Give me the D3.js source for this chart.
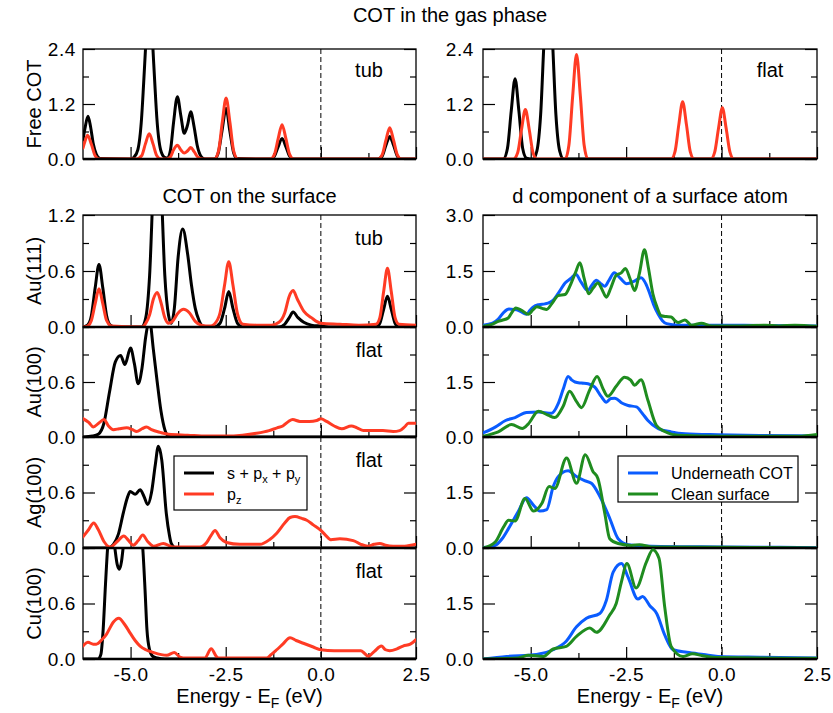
<!DOCTYPE html>
<html>
<head>
<meta charset="utf-8">
<script src="https://cdn.jsdelivr.net/npm/d3@7"></script>
<style>
  body { margin: 0; background: #fff; }
  svg text { font-family: "Liberation Sans", Arial, sans-serif; fill: #000; }
</style>
</head>
<body>
<svg id="chart" width="833" height="713"></svg>
<script>
// energy axis ticks (eV)
const energyTicks = [-5, -2.5, 0, 2.5];
const energyMinor = [-3.75, -1.25, 1.25];

// COT in the gas phase, tub
const freeTubSP = [[-6.25,0.42],[-6.2,0.66],[-6.12,0.93],[-6.05,0.7],[-5.98,0.33],[-5.9,0.1],[-5.8,0.01],
  [-5.0,0],[-4.91,0.04],[-4.81,0.2],[-4.71,0.9],[-4.66,1.6],[-4.61,2.37],[-4.56,3.13],[-4.51,3.9],[-4.46,3.13],[-4.41,2.37],[-4.36,1.6],[-4.31,0.9],[-4.21,0.2],[-4.11,0.04],
  [-4.03,0.02],[-3.95,0.2],[-3.87,0.8],[-3.77,1.36],[-3.68,0.95],[-3.59,0.56],[-3.5,0.75],[-3.42,1.03],[-3.33,0.7],[-3.25,0.3],[-3.15,0.06],[-3.05,0],
  [-2.8,0],[-2.7,0.12],[-2.6,0.6],[-2.49,1.1],[-2.39,0.6],[-2.29,0.13],[-2.2,0.01],
  [-1.3,0],[-1.22,0.06],[-1.12,0.27],[-1.02,0.45],[-0.92,0.27],[-0.82,0.06],[-0.72,0],
  [1.5,0],[1.61,0.06],[1.71,0.3],[1.81,0.49],[1.91,0.3],[2.01,0.06],[2.1,0],[2.5,0]];
const freeTubPz = [[-6.25,0.24],[-6.2,0.38],[-6.13,0.52],[-6.03,0.32],[-5.93,0.07],[-5.83,0],
  [-4.85,0],[-4.71,0.07],[-4.61,0.33],[-4.51,0.55],[-4.41,0.33],[-4.31,0.07],[-4.2,0],
  [-4.05,0],[-3.95,0.05],[-3.87,0.2],[-3.77,0.3],[-3.68,0.2],[-3.59,0.13],[-3.5,0.18],[-3.42,0.25],[-3.33,0.16],[-3.23,0.04],[-3.1,0],
  [-2.8,0],[-2.69,0.17],[-2.59,0.8],[-2.49,1.33],[-2.39,0.8],[-2.29,0.17],[-2.18,0],
  [-1.32,0],[-1.22,0.1],[-1.12,0.45],[-1.02,0.75],[-0.92,0.45],[-0.82,0.1],[-0.72,0],
  [1.5,0],[1.61,0.09],[1.71,0.41],[1.81,0.68],[1.91,0.41],[2.01,0.09],[2.11,0],[2.5,0]];

// COT in the gas phase, flat
const freeFlatSP = [[-6.25,0],[-5.72,0],[-5.61,0.23],[-5.51,1.05],[-5.41,1.75],[-5.31,1.05],[-5.21,0.23],[-5.11,0.02],
  [-4.94,0],[-4.84,0.17],[-4.74,0.97],[-4.64,2.76],[-4.54,3.9],[-4.44,2.76],[-4.34,0.97],[-4.24,0.17],[-4.14,0],[2.5,0]];
const freeFlatPz = [[-6.25,0],[-5.45,0],[-5.34,0.14],[-5.24,0.65],[-5.14,1.08],[-5.04,0.65],[-4.94,0.14],[-4.84,0],
  [-4.1,0],[-4.0,0.3],[-3.9,1.38],[-3.8,2.28],[-3.7,1.38],[-3.6,0.3],[-3.5,0],
  [-1.32,0],[-1.22,0.16],[-1.12,0.75],[-1.02,1.25],[-0.92,0.75],[-0.82,0.16],[-0.72,0],
  [-0.28,0],[-0.18,0.15],[-0.08,0.67],[0.02,1.12],[0.12,0.67],[0.22,0.15],[0.32,0],[2.5,0]];

// COT on the surface
const au111SP = [[-6.25,0],[-6.13,0.02],[-6.03,0.12],[-5.93,0.42],[-5.83,0.67],[-5.73,0.42],[-5.63,0.12],[-5.53,0.02],[-5.4,0],
  [-4.7,0],[-4.6,0.1],[-4.5,0.55],[-4.4,1.55],[-4.3,2.2],[-4.2,1.55],[-4.1,0.55],[-4.0,0.12],[-3.93,0.04],
  [-3.85,0.2],[-3.75,0.75],[-3.63,1.05],[-3.5,0.78],[-3.4,0.45],[-3.3,0.2],[-3.2,0.07],[-3.1,0.01],[-2.95,0],
  [-2.8,0],[-2.65,0.04],[-2.53,0.2],[-2.42,0.38],[-2.31,0.2],[-2.19,0.04],[-2.05,0],
  [-1.1,0],[-0.95,0.03],[-0.83,0.1],[-0.73,0.16],[-0.6,0.1],[-0.45,0.05],[-0.25,0.02],[0,0.01],[0.3,0],
  [1.45,0],[1.55,0.04],[1.65,0.19],[1.75,0.33],[1.85,0.19],[1.95,0.04],[2.05,0],[2.5,0]];
const au111Pz = [[-6.25,0],[-6.13,0.01],[-6.03,0.07],[-5.93,0.25],[-5.83,0.41],[-5.73,0.25],[-5.63,0.07],[-5.5,0.01],
  [-4.7,0],[-4.6,0.04],[-4.5,0.13],[-4.4,0.3],[-4.3,0.37],[-4.2,0.26],[-4.1,0.1],[-4.0,0.04],[-3.9,0.06],[-3.75,0.15],[-3.61,0.19],[-3.45,0.15],[-3.3,0.06],[-3.15,0.02],
  [-2.9,0.01],[-2.8,0.03],[-2.65,0.15],[-2.53,0.45],[-2.42,0.7],[-2.31,0.45],[-2.19,0.14],[-2.05,0.03],[-1.7,0.02],[-1.3,0.02],
  [-1.1,0.05],[-0.95,0.15],[-0.83,0.33],[-0.73,0.39],[-0.62,0.3],[-0.45,0.17],[-0.25,0.1],[0,0.04],[0.5,0.03],[1.0,0.02],
  [1.45,0.03],[1.55,0.1],[1.65,0.38],[1.75,0.63],[1.85,0.38],[1.95,0.1],[2.05,0.03],[2.5,0.02]];

const au100SP = [[-6.25,0],[-6.0,0.01],[-5.85,0.03],[-5.7,0.15],[-5.55,0.5],[-5.4,0.82],[-5.26,0.89],[-5.15,0.79],[-5.0,0.97],[-4.9,0.8],[-4.8,0.58],[-4.7,0.75],
  [-4.6,1.1],[-4.5,1.27],[-4.4,0.95],[-4.3,0.6],[-4.2,0.28],[-4.1,0.08],[-4.0,0.01],[-3.8,0],[2.5,0]];
const au100Pz = [[-6.25,0.2],[-6.1,0.16],[-5.98,0.11],[-5.84,0.15],[-5.7,0.19],[-5.58,0.12],[-5.45,0.08],[-5.3,0.09],[-5.1,0.1],[-4.95,0.08],[-4.84,0.06],
  [-4.7,0.09],[-4.58,0.11],[-4.45,0.08],[-4.22,0.05],[-4.0,0.03],[-3.5,0.02],[-3.0,0.01],[-2.5,0.01],[-2.06,0.02],[-1.7,0.04],[-1.36,0.07],
  [-1.15,0.1],[-1.0,0.12],[-0.85,0.17],[-0.74,0.19],[-0.55,0.17],[-0.3,0.17],[-0.11,0.18],[0,0.2],[0.15,0.17],[0.35,0.12],[0.55,0.09],
  [0.8,0.12],[0.95,0.1],[1.12,0.07],[1.4,0.07],[1.63,0.07],[1.9,0.06],[2.07,0.07],[2.2,0.11],[2.3,0.15],[2.5,0.15]];

const ag100SP = [[-6.25,0],[-5.6,0],[-5.45,0.04],[-5.32,0.15],[-5.19,0.38],[-5.08,0.55],[-5.01,0.61],[-4.88,0.58],[-4.75,0.63],[-4.65,0.56],[-4.55,0.47],
  [-4.45,0.6],[-4.35,0.9],[-4.27,1.1],[-4.18,0.95],[-4.06,0.37],[-3.98,0.14],[-3.93,0.05],[-3.8,0],[2.5,0]];
const ag100Pz = [[-6.25,0.12],[-6.1,0.2],[-5.97,0.27],[-5.85,0.2],[-5.7,0.07],[-5.54,0.01],[-5.35,0.07],[-5.18,0.13],[-5.05,0.08],[-4.93,0.03],[-4.8,0.08],
  [-4.68,0.14],[-4.55,0.07],[-4.4,0.02],[-4.14,0.05],[-3.88,0.01],[-3.18,0.01],[-3.0,0.06],[-2.88,0.14],[-2.78,0.19],[-2.65,0.11],[-2.48,0.06],
  [-2.13,0.04],[-1.6,0.04],[-1.35,0.09],[-1.16,0.16],[-0.95,0.27],[-0.81,0.33],[-0.68,0.34],[-0.5,0.32],[-0.37,0.3],[-0.2,0.25],[0,0.19],
  [0.12,0.14],[0.26,0.09],[0.5,0.1],[0.85,0.08],[1.05,0.04],[1.24,0.02],[1.4,0.04],[1.55,0.05],[1.7,0.03],[1.9,0.02],[2.2,0.02],[2.5,0.04]];

const cu100SP = [[-6.25,0],[-5.85,0],[-5.78,0.05],[-5.72,0.32],[-5.66,0.8],[-5.6,1.22],[-5.52,1.5],[-5.42,1.22],[-5.35,1.02],[-5.29,0.97],[-5.24,1.05],
  [-5.19,1.22],[-5.1,1.5],[-4.9,1.6],[-4.75,1.45],[-4.68,1.2],[-4.62,0.75],[-4.57,0.32],[-4.5,0.1],[-4.42,0.03],[-4.3,0.01],[-4.1,0],[2.5,0]];
const cu100Pz = [[-6.25,0.14],[-6.12,0.18],[-5.98,0.16],[-5.9,0.16],[-5.75,0.21],[-5.63,0.27],[-5.45,0.4],[-5.31,0.44],[-5.15,0.37],[-5.01,0.28],
  [-4.88,0.2],[-4.75,0.14],[-4.6,0.1],[-4.4,0.07],[-4.05,0.04],[-3.85,0.07],[-3.7,0.02],[-3.55,0.01],[-3.05,0.01],[-2.88,0.11],[-2.75,0.03],
  [-2.69,0.01],[-1.43,0.01],[-1.3,0.05],[-1.16,0.1],[-1.0,0.16],[-0.81,0.23],[-0.65,0.2],[-0.46,0.17],[-0.2,0.13],[0,0.1],[0.35,0.09],
  [0.7,0.09],[1.05,0.09],[1.15,0.06],[1.24,0.03],[1.4,0.08],[1.59,0.14],[1.7,0.1],[1.81,0.09],[2.0,0.11],[2.16,0.14],[2.35,0.16],[2.5,0.21]];

// d component of a surface atom
const au111Under = [[-6.25,0.05],[-6.0,0.1],[-5.85,0.21],[-5.7,0.4],[-5.57,0.48],[-5.45,0.47],[-5.33,0.45],[-5.2,0.38],[-5.11,0.34],[-5.02,0.45],
  [-4.93,0.54],[-4.78,0.6],[-4.63,0.62],[-4.5,0.66],[-4.41,0.72],[-4.25,0.95],[-4.1,1.18],[-3.95,1.3],[-3.82,1.41],[-3.68,1.2],[-3.51,0.98],
  [-3.4,1.12],[-3.28,1.25],[-3.15,1.15],[-3.06,1.09],[-2.95,1.25],[-2.81,1.45],[-2.65,1.3],[-2.49,1.16],[-2.3,1.22],[-2.11,1.32],[-1.98,1.15],
  [-1.88,0.89],[-1.78,0.6],[-1.66,0.34],[-1.55,0.17],[-1.44,0.09],[-1.14,0.05],[-0.09,0.05],[1.0,0.04],[2.5,0.03]];
const au111Clean = [[-6.25,0.02],[-6.02,0.07],[-5.85,0.15],[-5.75,0.18],[-5.59,0.24],[-5.5,0.38],[-5.39,0.51],[-5.25,0.45],[-5.06,0.34],[-4.95,0.45],
  [-4.84,0.54],[-4.7,0.5],[-4.58,0.47],[-4.45,0.62],[-4.28,0.84],[-4.1,0.87],[-3.95,1.15],[-3.83,1.45],[-3.71,1.72],[-3.6,1.3],[-3.48,0.89],
  [-3.36,1.05],[-3.24,1.18],[-3.12,0.98],[-3.02,0.8],[-2.9,1.05],[-2.76,1.39],[-2.63,1.45],[-2.52,1.57],[-2.4,1.3],[-2.28,0.98],[-2.15,1.45],
  [-2.02,2.07],[-1.92,1.6],[-1.8,0.89],[-1.68,0.5],[-1.58,0.3],[-1.45,0.28],[-1.32,0.27],[-1.22,0.17],[-1.14,0.12],[-0.96,0.19],[-0.79,0.05],
  [-0.53,0.1],[-0.26,0.03],[0.5,0.03],[1.14,0.05],[1.5,0.03],[1.92,0.05],[2.5,0.02]];

const au100Under = [[-6.25,0.11],[-5.93,0.27],[-5.66,0.45],[-5.41,0.53],[-5.11,0.67],[-4.8,0.68],[-4.45,0.65],[-4.28,0.91],[-4.15,1.3],[-4.02,1.65],
  [-3.92,1.55],[-3.84,1.5],[-3.67,1.47],[-3.5,1.45],[-3.32,1.36],[-3.15,1.1],[-3.02,0.95],[-2.9,1.05],[-2.8,1.06],[-2.6,0.92],[-2.45,0.86],
  [-2.23,0.82],[-2.08,0.65],[-1.93,0.45],[-1.66,0.23],[-1.32,0.14],[-0.96,0.09],[-0.09,0.06],[1.0,0.04],[2.5,0.03]];
const au100Clean = [[-6.25,0.02],[-5.85,0.14],[-5.5,0.34],[-5.22,0.23],[-5.06,0.36],[-4.8,0.7],[-4.55,0.6],[-4.37,0.53],[-4.15,0.84],[-3.98,1.25],
  [-3.82,1.0],[-3.67,0.8],[-3.46,1.27],[-3.26,1.65],[-3.1,1.3],[-2.98,1.11],[-2.75,1.4],[-2.54,1.63],[-2.38,1.55],[-2.28,1.41],[-2.11,1.56],
  [-1.93,1.0],[-1.71,0.32],[-1.49,0.15],[-1.14,0.05],[0,0.02],[2.0,0.02],[2.5,0.07]];

const ag100Under = [[-6.25,0.01],[-5.93,0.07],[-5.75,0.25],[-5.58,0.53],[-5.33,0.98],[-5.11,1.36],[-4.93,1.16],[-4.76,1.0],[-4.58,1.04],[-4.41,1.66],
  [-4.28,1.93],[-4.02,2.09],[-3.8,1.93],[-3.59,1.82],[-3.41,1.75],[-3.19,1.4],[-2.93,0.8],[-2.71,0.25],[-2.45,0.09],[-1.84,0.05],[0,0.03],[2.5,0.01]];
const ag100Clean = [[-6.25,0],[-5.93,0.16],[-5.71,0.57],[-5.58,0.75],[-5.41,0.73],[-5.15,1.34],[-4.93,1.0],[-4.71,1.2],[-4.52,1.66],[-4.37,1.61],
  [-4.06,2.43],[-3.8,1.75],[-3.57,2.52],[-3.37,2.07],[-3.24,1.88],[-3.06,0.94],[-2.93,0.25],[-2.71,0.12],[-2.36,0.07],[-2.15,0.09],[-1.84,0.03],
  [0,0.02],[2.5,0]];

const cu100Under = [[-6.25,0],[-5.63,0.07],[-4.85,0.12],[-4.41,0.25],[-4.07,0.48],[-3.8,0.87],[-3.54,1.1],[-3.19,1.23],[-3.02,1.58],[-2.84,2.35],
  [-2.62,2.58],[-2.45,2.21],[-2.19,1.62],[-2.07,1.69],[-1.88,1.44],[-1.7,1.23],[-1.49,0.65],[-1.27,0.25],[-0.91,0.18],[-0.47,0.12],[-0.09,0.07],
  [1.0,0.05],[2.5,0.03]];
const cu100Clean = [[-6.25,0],[-5.33,0.03],[-5.06,0.1],[-4.67,0.07],[-4.41,0.27],[-4.07,0.34],[-3.8,0.61],[-3.45,0.84],[-3.28,0.72],[-2.93,1.19],
  [-2.76,1.5],[-2.62,2.1],[-2.48,2.58],[-2.24,1.92],[-1.97,2.62],[-1.8,2.95],[-1.64,2.72],[-1.49,1.41],[-1.32,0.34],[-1.01,0.07],[-0.76,0.14],
  [-0.5,0.09],[-0.09,0.04],[2.5,0.02]];

const RED = '#ff3b24', BLUE = '#0a5cff', GREEN = '#1f8c1f', BLACK = '#000';
const cols = [[83, 416], [483, 817]];

const panels = [
  {col: 0, y0: 49,  y1: 159, ymax: 2.4, major: [0, 1.2, 2.4], minor: [0.6, 1.8], series: [[freeTubSP, BLACK], [freeTubPz, RED]], tag: 'tub', ylabel: 'Free COT', tagDy: 28},
  {col: 1, y0: 49,  y1: 159, ymax: 2.4, major: [0, 1.2, 2.4], minor: [0.6, 1.8], series: [[freeFlatSP, BLACK], [freeFlatPz, RED]], tag: 'flat', tagDy: 28},
  {col: 0, y0: 215, y1: 327, ymax: 1.2, major: [0, 0.6, 1.2], minor: [0.3, 0.9], series: [[au111SP, BLACK], [au111Pz, RED]], tag: 'tub', ylabel: 'Au(111)'},
  {col: 0, y0: 327, y1: 437, ymax: 1.2, major: [0, 0.6], minor: [0.3, 0.9, 1.2], series: [[au100SP, BLACK], [au100Pz, RED]], tag: 'flat', ylabel: 'Au(100)'},
  {col: 0, y0: 437, y1: 548, ymax: 1.2, major: [0, 0.6], minor: [0.3, 0.9, 1.2], series: [[ag100SP, BLACK], [ag100Pz, RED]], tag: 'flat', ylabel: 'Ag(100)'},
  {col: 0, y0: 548, y1: 659, ymax: 1.2, major: [0, 0.6], minor: [0.3, 0.9, 1.2], series: [[cu100SP, BLACK], [cu100Pz, RED]], tag: 'flat', ylabel: 'Cu(100)', xlabels: true},
  {col: 1, y0: 215, y1: 327, ymax: 3.0, major: [0, 1.5, 3.0], minor: [0.75, 2.25], series: [[au111Under, BLUE], [au111Clean, GREEN]]},
  {col: 1, y0: 327, y1: 437, ymax: 3.0, major: [0, 1.5], minor: [0.75, 2.25, 3.0], series: [[au100Under, BLUE], [au100Clean, GREEN]]},
  {col: 1, y0: 437, y1: 548, ymax: 3.0, major: [0, 1.5], minor: [0.75, 2.25, 3.0], series: [[ag100Under, BLUE], [ag100Clean, GREEN]]},
  {col: 1, y0: 548, y1: 659, ymax: 3.0, major: [0, 1.5], minor: [0.75, 2.25, 3.0], series: [[cu100Under, BLUE], [cu100Clean, GREEN]], xlabels: true}
];

const svg = d3.select('#chart');
const fmt = d => d.toFixed(1);

panels.forEach((p, i) => {
  const [xl, xr] = cols[p.col];
  const x = d3.scaleLinear().domain([-6.25, 2.5]).range([xl, xr]);
  const y = d3.scaleLinear().domain([0, p.ymax]).range([p.y1, p.y0]);
  const g = svg.append('g');

  g.append('clipPath').attr('id', 'clip' + i)
    .append('rect').attr('x', xl).attr('y', p.y0).attr('width', xr - xl).attr('height', p.y1 - p.y0);

  // frame
  g.append('rect').attr('x', xl).attr('y', p.y0).attr('width', xr - xl).attr('height', p.y1 - p.y0)
    .attr('fill', 'none').attr('stroke', '#000').attr('stroke-width', 1.3);

  // Fermi level
  g.append('line').attr('x1', x(0)).attr('x2', x(0)).attr('y1', p.y0).attr('y2', p.y1)
    .attr('stroke', '#000').attr('stroke-width', 1).attr('stroke-dasharray', '5,3');

  // y axes, ticks inward on both sides
  g.append('g').attr('transform', `translate(${xl},0)`)
    .call(d3.axisLeft(y).tickValues(p.major).tickSizeInner(-12).tickSizeOuter(0).tickPadding(p.col ? 9 : 7).tickFormat(fmt));
  g.append('g').attr('transform', `translate(${xl},0)`)
    .call(d3.axisLeft(y).tickValues(p.minor).tickSizeInner(-6).tickSizeOuter(0).tickFormat(''));
  g.append('g').attr('transform', `translate(${xr},0)`)
    .call(d3.axisRight(y).tickValues(p.major).tickSizeInner(-12).tickSizeOuter(0).tickFormat(''));
  g.append('g').attr('transform', `translate(${xr},0)`)
    .call(d3.axisRight(y).tickValues(p.minor).tickSizeInner(-6).tickSizeOuter(0).tickFormat(''));

  // x axis
  g.append('g').attr('transform', `translate(0,${p.y1})`)
    .call(d3.axisBottom(x).tickValues(energyTicks).tickSizeInner(-12).tickSizeOuter(0).tickPadding(9)
      .tickFormat(p.xlabels ? fmt : ''));
  g.append('g').attr('transform', `translate(0,${p.y1})`)
    .call(d3.axisBottom(x).tickValues(energyMinor).tickSizeInner(-6).tickSizeOuter(0).tickFormat(''));

  g.selectAll('.domain').remove();
  g.selectAll('.tick line').attr('stroke', '#000').attr('stroke-width', 1.2);
  g.selectAll('.tick text').attr('font-size', 19).attr('letter-spacing', 0.6)
    .attr('font-family', '"Liberation Sans", Arial, sans-serif').attr('fill', '#000');

  // curves
  const line = d3.line().x(d => x(d[0])).y(d => y(d[1])).curve(d3.curveMonotoneX);
  p.series.forEach(([data, color]) => {
    g.append('path').datum(data).attr('d', line)
      .attr('clip-path', `url(#clip${i})`)
      .attr('fill', 'none').attr('stroke', color).attr('stroke-width', 3)
      .attr('stroke-linejoin', 'round').attr('stroke-linecap', 'round');
  });

  // thick baseline
  g.append('line').attr('x1', xl).attr('x2', xr).attr('y1', p.y1).attr('y2', p.y1)
    .attr('stroke', '#000').attr('stroke-width', 2.6);

  if (p.tag) {
    g.append('text').attr('x', xr - 47).attr('y', p.y0 + (p.tagDy || 30))
      .attr('text-anchor', 'middle').attr('font-size', 20).text(p.tag);
  }
  if (p.ylabel) {
    g.append('text').attr('transform', `translate(41,${(p.y0 + p.y1) / 2}) rotate(-90)`)
      .attr('text-anchor', 'middle').attr('font-size', 20).text(p.ylabel);
  }
  if (p.xlabels) {
    const t = g.append('text').attr('x', (xl + xr) / 2).attr('y', 703)
      .attr('text-anchor', 'middle').attr('font-size', 20);
    t.append('tspan').text('Energy - E');
    t.append('tspan').attr('font-size', 14).attr('dy', 5).text('F');
    t.append('tspan').attr('dy', -5).text(' (eV)');
  }
});

// titles
svg.append('text').attr('x', 450).attr('y', 22).attr('text-anchor', 'middle').attr('font-size', 20).text('COT in the gas phase');
svg.append('text').attr('x', 249.5).attr('y', 203).attr('text-anchor', 'middle').attr('font-size', 20).text('COT on the surface');
svg.append('text').attr('x', 650).attr('y', 203).attr('text-anchor', 'middle').attr('font-size', 20).text('d component of a surface atom');

// legends
function legend(x0, y0, w, h, items) {
  const lg = svg.append('g');
  lg.append('rect').attr('x', x0).attr('y', y0).attr('width', w).attr('height', h)
    .attr('fill', '#fff').attr('stroke', '#000').attr('stroke-width', 1.2);
  items.forEach((it, k) => {
    const yy = y0 + 17 + k * 21;
    lg.append('line').attr('x1', x0 + 10).attr('x2', x0 + 40).attr('y1', yy).attr('y2', yy)
      .attr('stroke', it.color).attr('stroke-width', 3);
    const t = lg.append('text').attr('x', x0 + 53).attr('y', yy + 6).attr('font-size', 16);
    it.label(t);
  });
}
legend(174, 456, 133, 54, [
  {color: BLACK, label: t => {
    t.append('tspan').text('s + p');
    t.append('tspan').attr('font-size', 11).attr('dy', 4).text('x');
    t.append('tspan').attr('dy', -4).text(' + p');
    t.append('tspan').attr('font-size', 11).attr('dy', 4).text('y');
  }},
  {color: RED, label: t => {
    t.append('tspan').text('p');
    t.append('tspan').attr('font-size', 11).attr('dy', 4).text('z');
  }}
]);
legend(618, 456, 180, 46, [
  {color: BLUE, label: t => t.text('Underneath COT')},
  {color: GREEN, label: t => t.text('Clean surface')}
]);
</script>
</body>
</html>
